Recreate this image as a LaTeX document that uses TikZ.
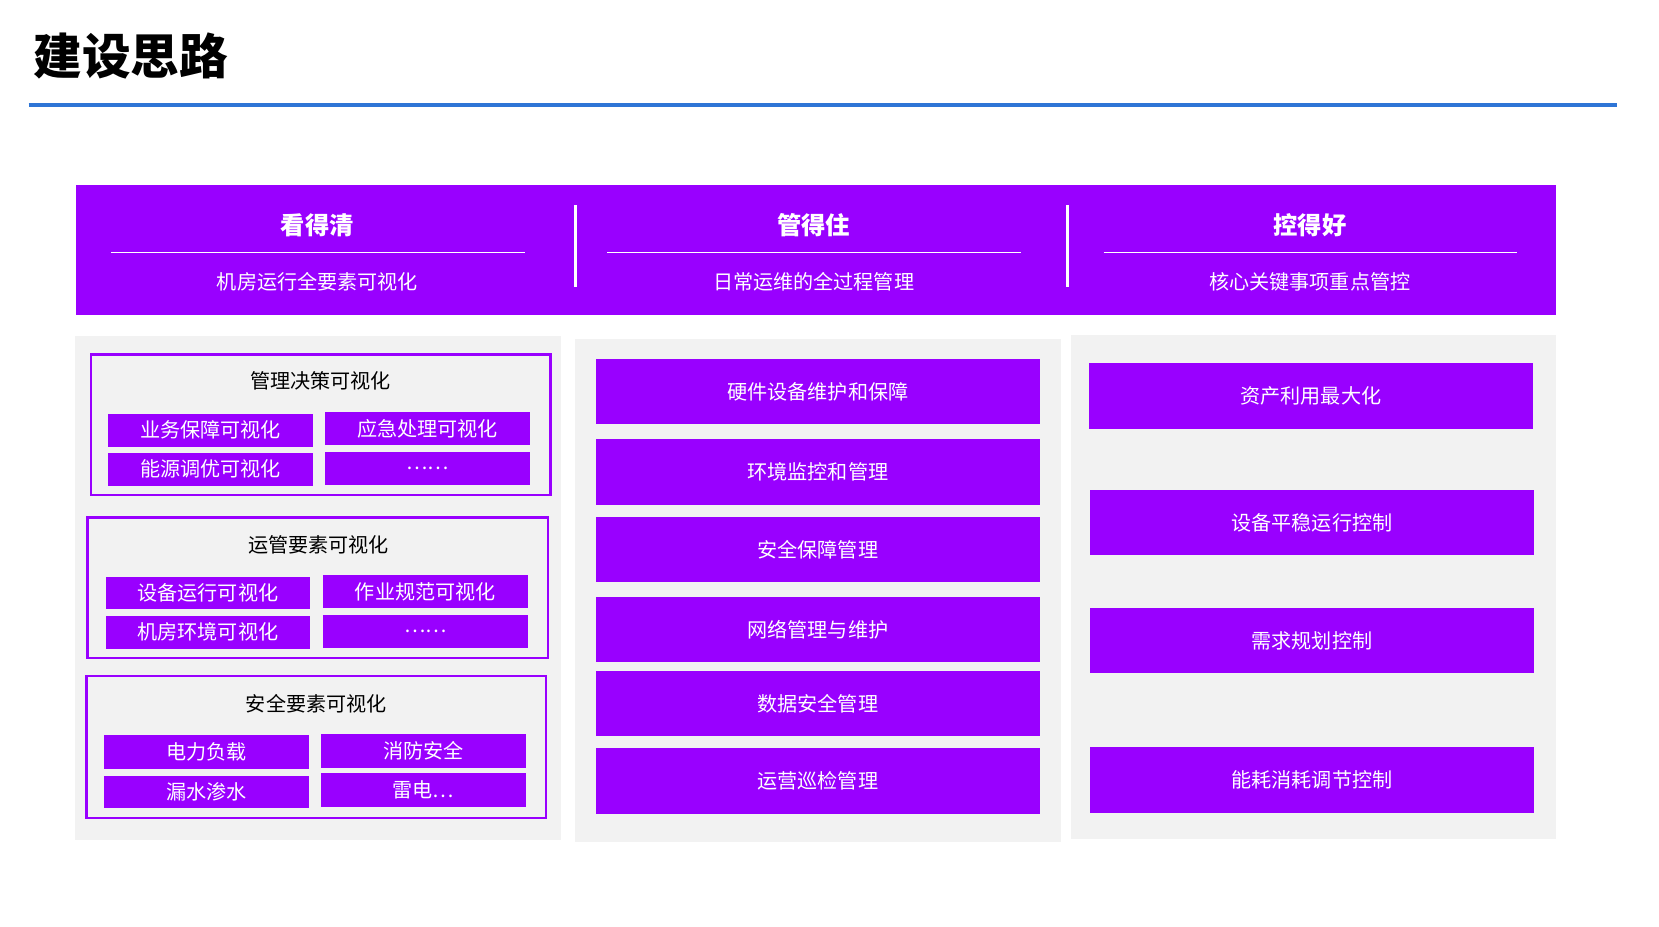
\documentclass[tikz,border=0pt]{standalone}
\usepackage{fontspec}
\setmainfont{Noto Sans CJK SC}
\definecolor{pp}{RGB}{153,0,255}
\definecolor{gbg}{RGB}{242,242,242}
\definecolor{bl}{RGB}{46,117,214}
\tikzset{
 pbox/.style={fill=pp,draw=none},
 gpanel/.style={fill=gbg,draw=none},
 grp/.style={draw=pp,line width=2.5pt,fill=gbg},
 wt/.style={text=white,font=\fontsize{19}{21}\selectfont},
 bt/.style={text=black,font=\fontsize{19}{21}\selectfont},
 ht/.style={text=white,font=\bfseries\fontsize{23}{25}\selectfont},
}
\newcommand{\bx}[5]{\fill[pp] (#1,#2) rectangle (#3,#4); \node[wt] at ({(#1+#3)/2},{(#2+#4)/2}) {#5};}
\begin{document}
\begin{tikzpicture}[x=1pt,y=-1pt]
\useasboundingbox (0,0) rectangle (1568,876);
\node[anchor=west,font=\bfseries\fontsize{46}{50}\selectfont] (title) at (28,53) {建设思路};
\draw[bl,line width=3.5pt] (27,99) -- (1528,99);
% header
\fill[pp] (72,175) rectangle (1471,298);
\foreach \cx/\a/\b in {300/看得清/机房运行全要素可视化, 769/管得住/日常运维的全过程管理, 1238/控得好/核心关键事项重点管控}{
  \node[ht] at (\cx,213) {\a};
  \draw[white,line width=0.8pt] (\cx-195,239) -- (\cx+196,239);
  \node[wt] at (\cx,266) {\b};
}
\draw[white,line width=2.5pt] (544,194) -- (544,271);
\draw[white,line width=2.5pt] (1009,194) -- (1009,271);
% panels
\fill[gbg] (71,318) rectangle (530,794);
\fill[gbg] (543,320) rectangle (1003,796);
\fill[gbg] (1012,317) rectangle (1471,793);
% left groups
\draw[grp] (86,335) rectangle (520,468);
\node[bt] at (303,360) {管理决策可视化};
\bx{102}{391}{296}{422}{业务保障可视化}
\bx{307}{389}{501}{421}{应急处理可视化}
\bx{102}{428}{296}{459}{能源调优可视化}
\bx{307}{427}{501}{458}{……}
\draw[grp] (83,489) rectangle (518,622);
\node[bt] at (301,515) {运管要素可视化};
\bx{100}{545}{293}{576}{设备运行可视化}
\bx{305}{543}{499}{575}{作业规范可视化}
\bx{100}{582}{293}{613}{机房环境可视化}
\bx{305}{581}{499}{612}{……}
\draw[grp] (82,639) rectangle (516,773);
\node[bt] at (299,665) {安全要素可视化};
\bx{98}{695}{292}{727}{电力负载}
\bx{303}{694}{497}{726}{消防安全}
\bx{98}{733}{292}{764}{漏水渗水}
\bx{303}{731}{497}{763}{雷电…}
% middle
\bx{563}{339}{983}{401}{硬件设备维护和保障}
\bx{563}{415}{983}{477}{环境监控和管理}
\bx{563}{489}{983}{550}{安全保障管理}
\bx{563}{564}{983}{626}{网络管理与维护}
\bx{563}{634}{983}{696}{数据安全管理}
\bx{563}{707}{983}{769}{运营巡检管理}
% right
\bx{1029}{343}{1449}{405}{资产利用最大化}
\bx{1030}{463}{1450}{525}{设备平稳运行控制}
\bx{1030}{575}{1450}{636}{需求规划控制}
\bx{1030}{706}{1450}{768}{能耗消耗调节控制}
\end{tikzpicture}
\end{document}
